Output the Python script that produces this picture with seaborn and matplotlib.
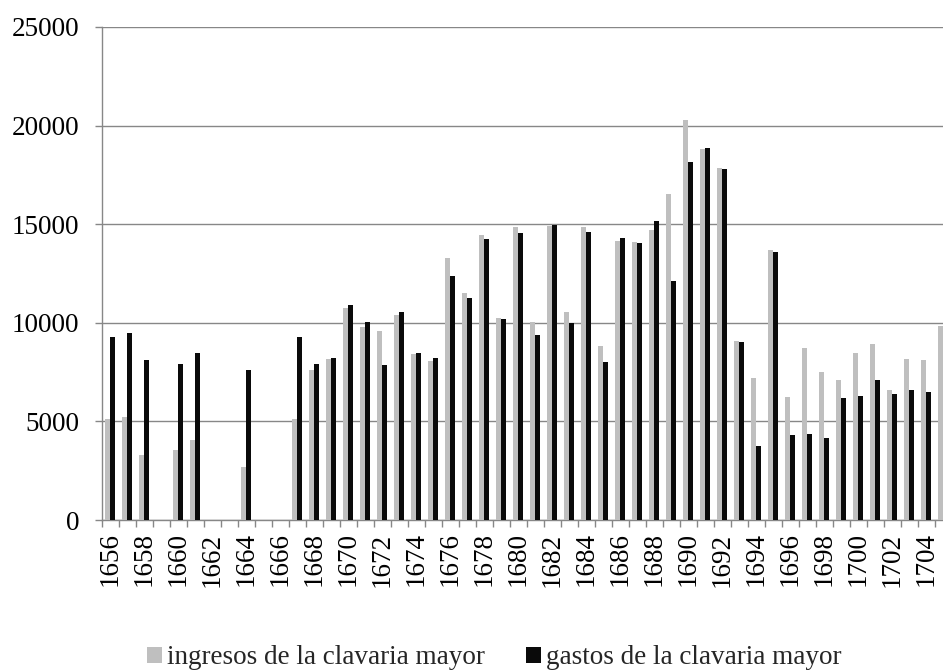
import numpy as np
import pandas as pd
import matplotlib
matplotlib.use("Agg")
import matplotlib.pyplot as plt
import seaborn as sns
from matplotlib.patches import Patch

nan = np.nan
years = list(range(1656, 1706))
ingresos = [5120, 5200, 3310, nan, 3570, 4070, nan, nan, 2700, nan,
            nan, 5110, 7590, 8160, 10770, 9790, 9600, 10380, 8400, 8040,
            13290, 11510, 14450, 10220, 14840, 10040, 14920, 10530, 14840, 8810,
            14150, 14080, 14700, 16530, 20270, 18830, 17830, 9090, 7200, 13690,
            6240, 8700, 7490, 7100, 8480, 8940, 6590, 8140, 8110, 9850]
gastos = [9260, 9500, 8110, nan, 7890, 8450, nan, nan, 7620, nan,
          nan, 9280, 7910, 8220, 10880, 10020, 7840, 10530, 8450, 8220,
          12390, 11240, 14270, 10210, 14540, 9370, 14980, 10000, 14590, 8000,
          14300, 14060, 15150, 12120, 18150, 18860, 17800, 9040, 3750, 13590,
          4330, 4380, 4160, 6170, 6290, 7100, 6390, 6590, 6490, nan]
series_names = ["ingresos de la clavaria mayor", "gastos de la clavaria mayor"]
colors = ["#bfbfbf", "#0a0a0a"]
yticks = [0, 5000, 10000, 15000, 20000, 25000]

df = pd.DataFrame({
    "year": [str(y) for y in years] * 2,
    "value": ingresos + gastos,
    "serie": [series_names[0]] * len(years) + [series_names[1]] * len(years),
})

sns.set_style("white")
plt.rcParams["font.family"] = ["Liberation Serif", "DejaVu Serif"]

FS = 19.5
W, H = 943, 670
fig = plt.figure(figsize=(W / 100, H / 100), dpi=100)
ax_left, ax_top, ax_bottom = 101.5, 27, 520
cat_w = 17.0
ax = fig.add_axes([ax_left / W, (H - ax_bottom) / H, cat_w * len(years) / W, (ax_bottom - ax_top) / H])

sns.barplot(data=df, x="year", y="value", hue="serie", hue_order=series_names,
            order=[str(y) for y in years], palette=colors, width=0.55,
            dodge=True, gap=0, linewidth=0, errorbar=None, legend=False, ax=ax, zorder=3)

gridc = "#878787"
ax.set_xlim(-0.5, len(years) - 0.5)
ax.set_ylim(0, 25000)
ax.set_yticks(yticks)
ax.set_yticklabels([str(v) for v in yticks])
ax.yaxis.grid(True, color=gridc, linewidth=1.0, zorder=0)
ax.set_axisbelow(True)
ax.xaxis.grid(False)
for s in ["top", "right"]:
    ax.spines[s].set_visible(False)
for s in ["left", "bottom"]:
    ax.spines[s].set_color(gridc)
    ax.spines[s].set_linewidth(1.0)

major = [i for i, y in enumerate(years) if y % 2 == 0]
ax.set_xticks(major)
ax.set_xticklabels([str(years[i]) for i in major], rotation=90)
ax.set_xticks([i - 0.5 for i in range(len(years) + 1)], minor=True)
ax.tick_params(axis="x", which="major", bottom=True, length=0, pad=9, labelsize=FS, colors="black")
ax.tick_params(axis="x", which="minor", bottom=True, length=5, width=1.0, color=gridc, direction="out")
ax.tick_params(axis="y", left=True, length=5, width=1.0, color=gridc, direction="out", pad=11,
               labelsize=FS, labelcolor="black")
ax.set_xlabel("")
ax.set_ylabel("")

handles = [Patch(facecolor=c, edgecolor="none") for c in colors]
fig.legend(handles, series_names, loc="center left",
           bbox_to_anchor=(147 / W, 1 - 658 / H), ncol=2, frameon=False,
           fontsize=FS, handlelength=0.55, handleheight=0.5, handletextpad=0.2,
           columnspacing=1.5, borderpad=0, borderaxespad=0)

fig.savefig("out.png", dpi=100)
